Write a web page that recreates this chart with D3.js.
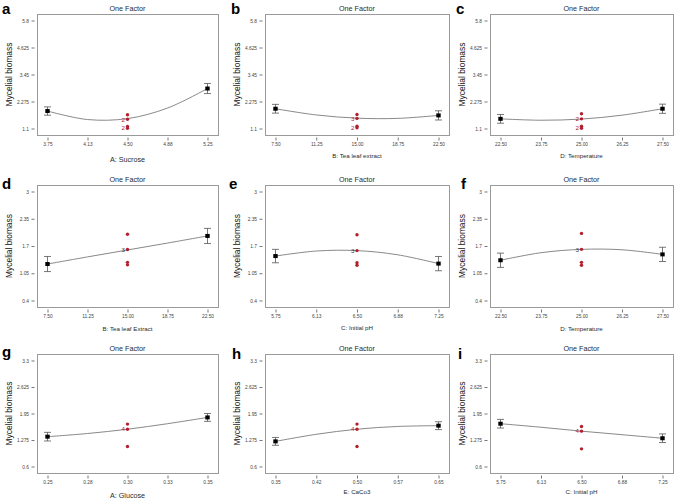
<!DOCTYPE html>
<html><head><meta charset="utf-8">
<script src="https://cdn.jsdelivr.net/npm/d3@7"></script>
<style>
body{margin:0;background:#fff;}
svg{display:block;font-family:"Liberation Sans",Arial,sans-serif;}
</style></head>
<body><svg id="chart" width="677" height="504"></svg>
<script>
// ---------- data ----------
const panelLetters = ["a","b","c","d","e","f","g","h","i"];
const chartTitles = ["One Factor","One Factor","One Factor","One Factor","One Factor","One Factor","One Factor","One Factor","One Factor"];
const yAxisTitle = "Mycelial biomass";
const xAxisTitles = ["A: Sucrose","B: Tea leaf extract","D: Temperature","B: Tea leaf Extract","C: Initial pH","D: Temperature","A: Glucose","E: CaCo3","C: Initial pH"];

const yTickValuesByRow = [[1.1,2.275,3.45,4.625,5.8],[0.4,1.05,1.7,2.35,3],[0.6,1.275,1.95,2.625,3.3]];
const yTickLabelsByRow = [["1.1","2.275","3.45","4.625","5.8"],["0.4","1.05","1.7","2.35","3"],["0.6","1.275","1.95","2.625","3.3"]];

const xTickValues = [
  [3.75,4.125,4.5,4.875,5.25],
  [7.5,11.25,15,18.75,22.5],
  [22.5,23.75,25,26.25,27.5],
  [7.5,11.25,15,18.75,22.5],
  [5.75,6.125,6.5,6.875,7.25],
  [22.5,23.75,25,26.25,27.5],
  [0.25,0.275,0.3,0.325,0.35],
  [0.35,0.425,0.5,0.575,0.65],
  [5.75,6.125,6.5,6.875,7.25]
];
const xTickLabels = [
  ["3.75","4.13","4.50","4.88","5.25"],
  ["7.50","11.25","15.00","18.75","22.50"],
  ["22.50","23.75","25.00","26.25","27.50"],
  ["7.50","11.25","15.00","18.75","22.50"],
  ["5.75","6.13","6.50","6.88","7.25"],
  ["22.50","23.75","25.00","26.25","27.50"],
  ["0.25","0.28","0.30","0.33","0.35"],
  ["0.35","0.42","0.50","0.57","0.65"],
  ["5.75","6.13","6.50","6.88","7.25"]
];

// factor levels at the ends (low / high) with predicted means and error bars
const endLevels = [[3.75,5.25],[7.5,22.5],[22.5,27.5],[7.5,22.5],[5.75,7.25],[22.5,27.5],[0.25,0.35],[0.35,0.65],[5.75,7.25]];
const endMeans  = [[1.86,2.84],[1.96,1.67],[1.52,1.96],[1.27,1.94],[1.46,1.28],[1.36,1.50],[1.36,1.85],[1.24,1.64],[1.69,1.32]];
const endErrors = [[0.18,0.22],[0.19,0.20],[0.19,0.20],[0.18,0.18],[0.16,0.17],[0.17,0.17],[0.11,0.10],[0.10,0.10],[0.11,0.11]];

// centre-point design runs
const centerLevels = [4.5,15,25,15,6.5,25,0.30,0.50,6.5];
const centerRuns = [
  [1.70,1.50,1.19,1.11],
  [1.71,1.54,1.20,1.13],
  [1.74,1.52,1.20,1.11],
  [1.98,1.615,1.31,1.25],
  [1.97,1.59,1.30,1.24],
  [2.00,1.62,1.31,1.24],
  [1.68,1.55,1.11],
  [1.68,1.55,1.11],
  [1.62,1.50,1.05]
];
const centerRunCounts = [
  ["","2","","2"],
  ["","3","","2"],
  ["","2","","2"],
  ["","3","",""],
  ["","3","",""],
  ["","3","",""],
  ["","4",""],
  ["","4",""],
  ["","4",""]
];

// fitted model curve, read at the x tick values
const curveValues = [
  [1.86,1.49,1.53,1.99,2.84],
  [1.96,1.69,1.55,1.54,1.67],
  [1.52,1.46,1.51,1.68,1.96],
  [1.27,1.44,1.605,1.77,1.94],
  [1.46,1.58,1.59,1.49,1.28],
  [1.36,1.54,1.62,1.61,1.50],
  [1.36,1.44,1.55,1.69,1.85],
  [1.24,1.42,1.55,1.62,1.64],
  [1.69,1.60,1.50,1.41,1.32]
];

// ---------- layout ----------
const colBox = [[37,218],[265,449],[490,673]];
const rowBox = [[14,135],[185,307],[354,473]];
const letterPos = [[2,13.5],[231,13.5],[456,13.5],[2,189],[229,189],[461,189],[2,357],[232,359],[458,359]];
const xTitleOffset = [27,23,23,24,23,24,25,21,21];
const xTitleSize = [7.2,6.2,6.2,6.2,6.2,6.2,7.2,6.2,6.2];
const padX = 10.5, padY = 6.5;

const svg = d3.select("#chart");

panelLetters.forEach((letter, i) => {
  const r = Math.floor(i/3), c = i%3;
  const [x0,x1] = colBox[c], [y0,y1] = rowBox[r];
  const g = svg.append("g");
  const xd = xTickValues[i];
  const yd = yTickValuesByRow[r];
  const x = d3.scaleLinear().domain([xd[0], xd[xd.length-1]]).range([x0+padX, x1-padX]);
  const y = d3.scaleLinear().domain([yd[0], yd[yd.length-1]]).range([y1-padY, y0+padY]);

  // box
  g.append("rect").attr("x",x0+0.5).attr("y",y0+0.5).attr("width",x1-x0).attr("height",y1-y0)
    .attr("fill","none").attr("stroke","#9a9a9a").attr("stroke-width",1);

  // x axis
  const xAxis = d3.axisBottom(x).tickValues(xd).tickSize(3).tickPadding(2.5)
    .tickFormat((d,k) => xTickLabels[i][k]);
  const xa = g.append("g").attr("transform",`translate(0,${y1+2.5})`).call(xAxis);
  xa.select(".domain").remove();
  xa.selectAll("line").attr("stroke","#777");
  xa.selectAll("text").attr("font-size",4.8).attr("fill","#444").attr("font-family","Liberation Sans, Arial, sans-serif");

  // y axis
  const yAxis = d3.axisLeft(y).tickValues(yd).tickSize(3).tickPadding(2.5)
    .tickFormat((d,k) => yTickLabelsByRow[r][k]);
  const ya = g.append("g").attr("transform",`translate(${x0-2.5},0)`).call(yAxis);
  ya.select(".domain").remove();
  ya.selectAll("line").attr("stroke","#777");
  ya.selectAll("text").attr("font-size",4.8).attr("fill","#444").attr("font-family","Liberation Sans, Arial, sans-serif");

  // titles
  g.append("text").attr("x",(x0+x1)/2).attr("y",y0-3).attr("text-anchor","middle")
    .attr("font-size",7.2).attr("fill","#2a2a2a").text(chartTitles[i]);
  g.append("text").attr("x",(x0+x1)/2).attr("y",y1+xTitleOffset[i]).attr("text-anchor","middle")
    .attr("font-size",xTitleSize[i]).attr("fill","#2a2a2a").text(xAxisTitles[i]);
  g.append("text").attr("transform",`translate(${x0-25},${(y0+y1)/2}) rotate(-90)`)
    .attr("text-anchor","middle").attr("font-size",8.4).attr("fill","#111").text(yAxisTitle);
  svg.append("text").attr("x",letterPos[i][0]).attr("y",letterPos[i][1])
    .attr("font-size",15).attr("font-weight","bold").attr("fill","#000").text(letter);

  // curve
  const line = d3.line().x((d,k)=>x(xd[k])).y(d=>y(d)).curve(d3.curveCatmullRom.alpha(0.5));
  g.append("path").datum(curveValues[i]).attr("d",line)
    .attr("fill","none").attr("stroke","#7a7a7a").attr("stroke-width",0.9);

  // error bars + end means
  endLevels[i].forEach((lv,k) => {
    const m = endMeans[i][k], e = endErrors[i][k];
    const px = x(lv);
    const eg = g.append("g").attr("stroke","#555").attr("stroke-width",0.8);
    eg.append("line").attr("x1",px).attr("x2",px).attr("y1",y(m+e)).attr("y2",y(m-e));
    eg.append("line").attr("x1",px-3.5).attr("x2",px+3.5).attr("y1",y(m+e)).attr("y2",y(m+e));
    eg.append("line").attr("x1",px-3.5).attr("x2",px+3.5).attr("y1",y(m-e)).attr("y2",y(m-e));
    g.append("rect").attr("x",px-2.2).attr("y",y(m)-2).attr("width",4.4).attr("height",4).attr("fill","#000");
  });

  // centre runs
  const cx = x(centerLevels[i]);
  centerRuns[i].forEach((v,k) => {
    g.append("circle").attr("cx",cx).attr("cy",y(v)).attr("r",1.7).attr("fill","#b3202c");
    const lab = centerRunCounts[i][k];
    if (lab) {
      g.append("text").attr("x",cx-2.5).attr("y",y(v)+2.2).attr("text-anchor","end")
        .attr("font-size",6.2).attr("fill", r===1 ? "#333" : "#b3202c").text(lab);
    }
  });
});
</script>
</body></html>
